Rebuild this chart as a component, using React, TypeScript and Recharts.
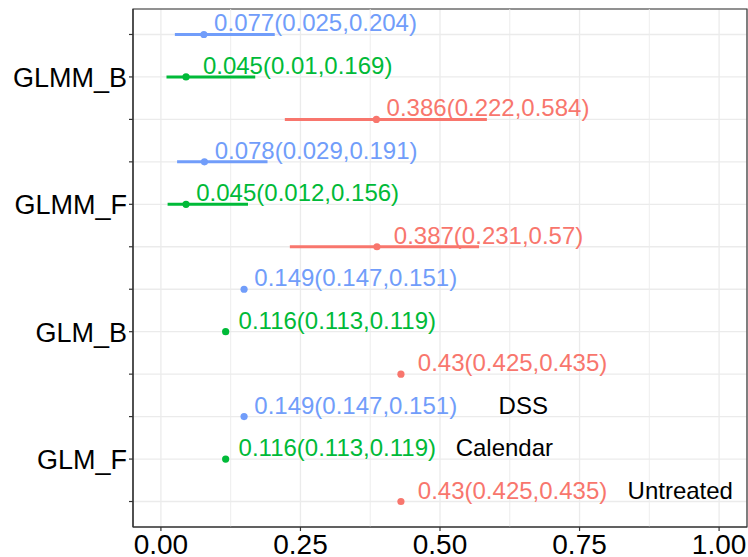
import React from 'react';
import {
  ComposedChart,
  Scatter,
  XAxis,
  YAxis,
  CartesianGrid,
  ErrorBar,
  ReferenceLine,
  ReferenceArea,
} from 'recharts';

const models = ['GLM_F', 'GLM_B', 'GLMM_F', 'GLMM_B'];

// estimates and intervals, one entry per model (same order as models)
const untreatedEst = [0.43, 0.43, 0.387, 0.386];
const untreatedLow = [0.425, 0.425, 0.231, 0.222];
const untreatedHigh = [0.435, 0.435, 0.57, 0.584];

const calendarEst = [0.116, 0.116, 0.045, 0.045];
const calendarLow = [0.113, 0.113, 0.012, 0.01];
const calendarHigh = [0.119, 0.119, 0.156, 0.169];

const dssEst = [0.149, 0.149, 0.078, 0.077];
const dssLow = [0.147, 0.147, 0.029, 0.025];
const dssHigh = [0.151, 0.151, 0.191, 0.204];

const groupNames = ['Untreated', 'Calendar', 'DSS'];
const groupColors = ['#F8766D', '#00BA38', '#719DFA'];
// where the group names are written, in the GLM_F rows
const groupNameX = [0.836, 0.528, 0.605];

const xTicks = [0, 0.25, 0.5, 0.75, 1];
const xMinor = [0.125, 0.375, 0.625, 0.875];
const yTicks = [1, 2, 3, 4, 5, 6, 7, 8, 9, 10, 11, 12];

// labels are centred this far to the right of the estimate (data units)
const LABEL_NUDGE = 0.2;

const FONT = '"Liberation Sans", Arial, sans-serif';

const buildSeries = (g: number, est: number[], low: number[], high: number[]) =>
  models.map((m, i) => ({
    model: m,
    x: est[i],
    y: i * 3 + g + 1,
    err: [est[i] - low[i], high[i] - est[i]],
    label: `${est[i]}(${low[i]},${high[i]})`,
  }));

const untreatedData = buildSeries(0, untreatedEst, untreatedLow, untreatedHigh);
const calendarData = buildSeries(1, calendarEst, calendarLow, calendarHigh);
const dssData = buildSeries(2, dssEst, dssLow, dssHigh);

const series = [untreatedData, calendarData, dssData];

const labelData = series.map(data => data.map(d => ({ ...d, x: d.x + LABEL_NUDGE })));

const nameData = groupNames.map((name, g) => ({ x: groupNameX[g], y: g + 1, label: name }));

// y tick -> model name, only on the middle row of each model
const yLabel = (v: number) => ((v - 2) % 3 === 0 ? models[(v - 2) / 3] : '');

const dotShape = (color: string) => (props: any) => (
  <circle cx={props.cx} cy={props.cy} r={3.6} fill={color} />
);

const labelShape = (color: string) => (props: any) => {
  const { cx, cy, payload } = props;
  return (
    <text x={cx} y={cy - 3} textAnchor="middle" fill={color} fontSize={24} fontFamily={FONT}>
      {payload.label}
    </text>
  );
};

const nameShape = (props: any) => {
  const { cx, cy, payload } = props;
  return (
    <text x={cx} y={cy - 3} fill="#000" fontSize={24} fontFamily={FONT}>
      {payload.label}
    </text>
  );
};

const XTick = ({ x, y, payload }: any) => (
  <text x={x} y={y} dy={21} textAnchor="middle" fill="#000" fontSize={28} fontFamily={FONT}>
    {payload.value.toFixed(2)}
  </text>
);

const YTick = ({ x, y, payload }: any) => (
  <text x={x} y={y} dy={10} textAnchor="end" fill="#000" fontSize={27} fontFamily={FONT}>
    {yLabel(payload.value)}
  </text>
);

const App = () => (
  <div style={{ position: 'absolute', left: 0, top: 0, background: '#fff' }}>
    <ComposedChart width={748} height={557} margin={{ top: 9, right: 1, bottom: 0, left: 0 }}>
      <CartesianGrid stroke="#EBEBEB" strokeWidth={1.3} />
      {xMinor.map(v => (
        <ReferenceLine key={v} x={v} stroke="#EBEBEB" strokeWidth={0.9} />
      ))}
      <XAxis
        type="number"
        dataKey="x"
        domain={[-0.05, 1.05]}
        ticks={xTicks}
        interval={0}
        height={30}
        tickSize={4}
        tick={<XTick />}
        axisLine={{ stroke: '#333', strokeWidth: 1.2 }}
        tickLine={{ stroke: '#333', strokeWidth: 1.2 }}
        allowDataOverflow
      />
      <YAxis
        type="number"
        dataKey="y"
        domain={[0.4, 12.6]}
        ticks={yTicks}
        interval={0}
        width={133}
        tickSize={4}
        tick={<YTick />}
        axisLine={{ stroke: '#333', strokeWidth: 1.2 }}
        tickLine={{ stroke: '#333', strokeWidth: 1.2 }}
      />
      <ReferenceArea x1={-0.05} x2={1.05} y1={0.4} y2={12.6} fill="none" stroke="#333" strokeWidth={1.2} />
      {series.map((data, g) => (
        <Scatter
          key={groupNames[g]}
          name={groupNames[g]}
          data={data}
          shape={dotShape(groupColors[g])}
          isAnimationActive={false}
        >
          <ErrorBar
            dataKey="err"
            direction="x"
            width={0}
            stroke={groupColors[g]}
            strokeWidth={3}
            isAnimationActive={false}
          />
        </Scatter>
      ))}
      {labelData.map((data, g) => (
        <Scatter
          key={`lab-${groupNames[g]}`}
          name={`lab-${groupNames[g]}`}
          data={data}
          shape={labelShape(groupColors[g])}
          isAnimationActive={false}
        />
      ))}
      <Scatter name="names" data={nameData} shape={nameShape} isAnimationActive={false} />
    </ComposedChart>
  </div>
);

export default App;
